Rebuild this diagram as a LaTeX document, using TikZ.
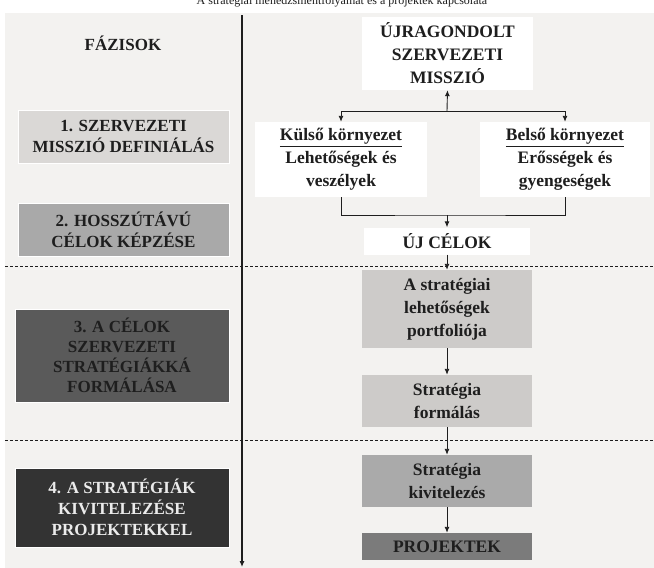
\documentclass[tikz,border=0pt]{standalone}
\usepackage{fontspec}
\setmainfont{Liberation Serif}
\usetikzlibrary{arrows.meta}

\definecolor{panel}{HTML}{F3F2F0}
\definecolor{phaseA}{HTML}{DAD8D6}
\definecolor{phaseB}{HTML}{A9A9A9}
\definecolor{phaseC}{HTML}{5A5A5A}
\definecolor{phaseD}{HTML}{333333}
\definecolor{stepA}{HTML}{CDCBC9}
\definecolor{stepB}{HTML}{AAAAAA}
\definecolor{stepC}{HTML}{7B7B7B}
\definecolor{ink}{HTML}{1E1E1E}

\tikzset{
  phasebox/.style={rectangle, draw=white, line width=0.8pt, align=center,
    inner sep=0pt, text=ink,
    font=\fontsize{17}{21}\selectfont\bfseries},
  flowbox/.style={rectangle, draw=none, align=center, inner sep=0pt,
    minimum width=170pt, text=ink,
    font=\fontsize{17.5}{23}\selectfont\bfseries},
  conn/.style={draw=ink, line width=0.9pt},
  arr/.style={conn, -{Latex[length=6pt,width=5pt]}},
}

\begin{document}
\begin{tikzpicture}[x=1pt,y=-1pt]
\useasboundingbox (0,0) rectangle (654,568);
\fill[white] (0,0) rectangle (654,568);
\fill[panel] (5,13) rectangle (654,568);

% caption, cut at the top edge
\begin{scope}
  \clip (0,0) rectangle (654,13);
  \node[anchor=base, font=\fontsize{12}{14}\selectfont, text=ink] (cap) at (342,4)
    {A stratégiai menedzsmentfolyamat és a projektek kapcsolata};
\end{scope}

% phases column
\node[font=\fontsize{17}{20}\selectfont\bfseries, text=ink] (fazis) at (123,43) {FÁZISOK};
\node[phasebox, fill=phaseA, minimum width=211pt, minimum height=53pt] (p1) at (123.5,136.5)
  {1. SZERVEZETI\\MISSZIÓ DEFINIÁLÁS};
\node[phasebox, fill=phaseB, minimum width=211pt, minimum height=53pt] (p2) at (123.5,229.5)
  {2. HOSSZÚTÁVÚ\\CÉLOK KÉPZÉSE};
\node[phasebox, fill=phaseC, minimum width=214pt, minimum height=93pt,
  font=\fontsize{17}{20}\selectfont\bfseries] (p3) at (122,355.5)
  {3. A CÉLOK\\SZERVEZETI\\STRATÉGIÁKKÁ\\FORMÁLÁSA};
\node[phasebox, fill=phaseD, text=white!92!black, minimum width=214pt, minimum height=79pt] (p4) at (122,507.5)
  {4. A STRATÉGIÁK\\KIVITELEZÉSE\\PROJEKTEKKEL};

% time axis and phase separators
\coordinate (axtop) at (242,15);
\coordinate (axbot) at (242,567);
\draw[arr, line width=1.1pt] (axtop) -- (axbot);
\coordinate (d1l) at (5,266);  \coordinate (d1r) at (654,266);
\coordinate (d2l) at (5,440);  \coordinate (d2r) at (654,440);
\draw[ink, line width=0.7pt, dash pattern=on 3pt off 2pt] (d1l) -- (d1r);
\draw[ink, line width=0.7pt, dash pattern=on 3pt off 2pt] (d2l) -- (d2r);

% flow column
\node[flowbox, fill=white, minimum width=171pt, minimum height=73pt] (miss) at (447.5,53.5)
  {ÚJRAGONDOLT\\SZERVEZETI\\MISSZIÓ};
\node[flowbox, fill=white, minimum width=172pt, minimum height=75pt] (kulso) at (341,159.5)
  {\underline{Külső környezet}\\Lehetőségek és\\veszélyek};
\node[flowbox, fill=white, minimum width=170pt, minimum height=75pt] (belso) at (565,159.5)
  {\underline{Belső környezet}\\Erősségek és\\gyengeségek};
\node[flowbox, fill=white, minimum width=166pt, minimum height=27pt] (ujcel) at (447,241)
  {ÚJ CÉLOK};
\node[flowbox, fill=stepA, minimum height=78pt] (portf) at (447,309)
  {A stratégiai\\lehetőségek\\portfoliója};
\node[flowbox, fill=stepA, minimum height=52pt] (form) at (447,401)
  {Stratégia\\formálás};
\node[flowbox, fill=stepB, minimum height=52pt] (kivit) at (447,481)
  {Stratégia\\kivitelezés};
\node[flowbox, fill=stepC, minimum height=27pt] (proj) at (447,546.5)
  {PROJEKTEK};

% split above the environment analyses
\coordinate (split) at (447,111);
\coordinate (splitL) at (341,111);
\coordinate (splitR) at (565,111);
\draw[arr] (split) -- (miss.south);
\draw[conn] (splitL) -- (splitR);
\draw[arr] (splitL) -- (kulso.north);
\draw[arr] (splitR) -- (belso.north);

% merge below the environment analyses
\coordinate (merge) at (447,215);
\draw[conn] (kulso.south) |- (merge) -| (belso.south);
\draw[arr] (merge) -- (ujcel.north);

% strategy chain
\draw[arr] (ujcel.south) -- (portf.north);
\draw[arr] (portf.south) -- (form.north);
\draw[arr] (form.south) -- (kivit.north);
\draw[arr] (kivit.south) -- (proj.north);
\end{tikzpicture}
\end{document}
